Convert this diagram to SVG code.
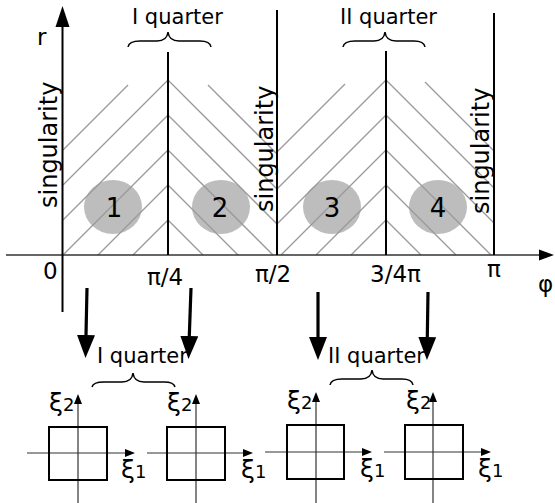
<svg xmlns="http://www.w3.org/2000/svg" width="555" height="503" viewBox="0 0 555 503">
<style>
text{font-family:"DejaVu Sans","Liberation Sans",sans-serif;fill:#000}
.lbl{font-size:23px}
.q{font-size:21px}
.sing{font-size:24px}
.num{font-size:26px;text-anchor:middle}
.xi{font-size:25px}
.sub{font-size:18px}
.hatch line{stroke:#999;stroke-width:1.3}
.vl{stroke:#000;stroke-width:2}
.brace{fill:none;stroke:#000;stroke-width:1.5}
.circ{fill:#bdbdbd}
.box{fill:none;stroke:#000;stroke-width:2}
.ax{stroke:#333;stroke-width:1.2}
.big{stroke:#000;stroke-width:3.2}
</style>
<defs>
<marker id="bigHead" markerUnits="userSpaceOnUse" markerWidth="24" markerHeight="20" refX="0" refY="9" orient="auto">
<path d="M0,0 L23,9 L0,18 z" fill="#000"/>
</marker>
<marker id="smallHead" markerUnits="userSpaceOnUse" markerWidth="11" markerHeight="9" refX="0" refY="4" orient="auto">
<path d="M0,0 L10,4 L0,8 z" fill="#000"/>
</marker>
</defs>

<g id="regions">
<ellipse class="circ" cx="113" cy="207" rx="29" ry="27"/>
<ellipse class="circ" cx="221" cy="207" rx="29" ry="27"/>
<ellipse class="circ" cx="332" cy="207" rx="29" ry="27"/>
<ellipse class="circ" cx="438" cy="207" rx="29" ry="27"/>
<g class="hatch">
<line x1="63" y1="150" x2="128" y2="85"/>
<line x1="168" y1="80" x2="63" y2="185"/>
<line x1="168" y1="115" x2="63" y2="220"/>
<line x1="168" y1="150" x2="63" y2="255"/>
<line x1="168" y1="185" x2="98" y2="255"/>
<line x1="168" y1="220" x2="133" y2="255"/>
<line x1="208" y1="85" x2="277" y2="154"/>
<line x1="168" y1="80" x2="277" y2="189"/>
<line x1="168" y1="115" x2="277" y2="224"/>
<line x1="168" y1="150" x2="273" y2="255"/>
<line x1="168" y1="185" x2="238" y2="255"/>
<line x1="168" y1="220" x2="203" y2="255"/>
<line x1="277" y1="152" x2="345" y2="84"/>
<line x1="386" y1="80" x2="277" y2="189"/>
<line x1="386" y1="115" x2="277" y2="224"/>
<line x1="386" y1="150" x2="281" y2="255"/>
<line x1="386" y1="185" x2="316" y2="255"/>
<line x1="386" y1="220" x2="351" y2="255"/>
<line x1="425" y1="82" x2="494" y2="151"/>
<line x1="386" y1="80" x2="494" y2="188"/>
<line x1="386" y1="115" x2="494" y2="223"/>
<line x1="386" y1="150" x2="491" y2="255"/>
<line x1="386" y1="185" x2="456" y2="255"/>
<line x1="386" y1="220" x2="421" y2="255"/>
</g>
<text class="num" x="114" y="217">1</text>
<text class="num" x="220" y="217">2</text>
<text class="num" x="332" y="217">3</text>
<text class="num" x="438" y="217">4</text>
</g>

<g id="axes">
<line x1="6" y1="255" x2="541" y2="255" stroke="#333" stroke-width="1.6"/>
<path d="M539,249.5 L554,255 L539,260.5 z" fill="#000"/>
<line x1="62.5" y1="312" x2="62.5" y2="26" stroke="#000" stroke-width="2"/>
<path d="M55.5,27 L62.5,6 L69.5,27 z" fill="#000"/>
<line class="vl" x1="168" y1="52" x2="168" y2="255"/>
<line class="vl" x1="277" y1="10" x2="277" y2="255"/>
<line class="vl" x1="386" y1="51" x2="386" y2="255"/>
<line class="vl" x1="494" y1="13" x2="494" y2="255"/>
<text class="lbl" x="37" y="45">r</text>
<text class="lbl" x="43" y="279">0</text>
<text class="lbl" x="147" y="285">π/4</text>
<text class="lbl" x="255" y="282">π/2</text>
<text class="lbl" x="370" y="282">3/4π</text>
<text class="lbl" x="487" y="277">π</text>
<text class="lbl" x="538" y="292">φ</text>
<text class="sing" transform="translate(57,208) rotate(-90)">singularity</text>
<text class="sing" transform="translate(273,212) rotate(-90)">singularity</text>
<text class="sing" transform="translate(489,214) rotate(-90)">singularity</text>
</g>

<g id="top-quarters">
<text class="q" x="132" y="24">I quarter</text>
<path class="brace" d="M128,47 Q129,41 140,41 L157,41 Q167,41 168,32 Q169,41 179,41 L200,41 Q210,41 211,47"/>
<text class="q" x="340" y="24">II quarter</text>
<path class="brace" d="M343,47 Q344,41 355,41 L374,41 Q384,41 385,32 Q386,41 396,41 L414,41 Q424,41 425,47"/>
</g>

<g id="connectors">
<line class="big" x1="87" y1="288" x2="86" y2="335" marker-end="url(#bigHead)"/>
<line class="big" x1="191" y1="288" x2="189.3" y2="336" marker-end="url(#bigHead)"/>
<line class="big" x1="318" y1="292" x2="318" y2="337" marker-end="url(#bigHead)"/>
<line class="big" x1="428" y1="292" x2="427.3" y2="337" marker-end="url(#bigHead)"/>
</g>

<g id="bottom-quarters">
<text class="q" x="97" y="363">I quarter</text>
<path class="brace" d="M92,387 Q93,382 104,382 L122,382 Q132,382 133,373 Q134,382 144,382 L164,382 Q174,382 175,387"/>
<text class="q" x="328" y="363">II quarter</text>
<path class="brace" d="M330,385 Q331,379 342,379 L361,379 Q371,379 372,370 Q373,379 383,379 L402,379 Q412,379 413,385"/>
</g>

<g id="sys1">
<line class="ax" x1="78" y1="503" x2="78" y2="404" marker-end="url(#smallHead)"/>
<line class="ax" x1="27" y1="453" x2="125" y2="453" marker-end="url(#smallHead)"/>
<rect class="box" x="49" y="427" width="58" height="53"/>
<text class="xi" x="49" y="411">ξ<tspan class="sub">2</tspan></text>
<text class="xi" x="121" y="478">ξ<tspan class="sub">1</tspan></text>
</g>
<g id="sys2">
<line class="ax" x1="196" y1="503" x2="196" y2="404" marker-end="url(#smallHead)"/>
<line class="ax" x1="147" y1="453" x2="243" y2="453" marker-end="url(#smallHead)"/>
<rect class="box" x="167" y="427" width="58" height="53"/>
<text class="xi" x="167" y="411">ξ<tspan class="sub">2</tspan></text>
<text class="xi" x="241" y="478">ξ<tspan class="sub">1</tspan></text>
</g>
<g id="sys3">
<line class="ax" x1="316" y1="503" x2="316" y2="402" marker-end="url(#smallHead)"/>
<line class="ax" x1="265" y1="452" x2="362" y2="452" marker-end="url(#smallHead)"/>
<rect class="box" x="287" y="425" width="57" height="54"/>
<text class="xi" x="287" y="409">ξ<tspan class="sub">2</tspan></text>
<text class="xi" x="360" y="477">ξ<tspan class="sub">1</tspan></text>
</g>
<g id="sys4">
<line class="ax" x1="433" y1="503" x2="433" y2="402" marker-end="url(#smallHead)"/>
<line class="ax" x1="384" y1="452" x2="481" y2="452" marker-end="url(#smallHead)"/>
<rect class="box" x="405" y="425" width="58" height="54"/>
<text class="xi" x="406" y="409">ξ<tspan class="sub">2</tspan></text>
<text class="xi" x="478" y="477">ξ<tspan class="sub">1</tspan></text>
</g>
</svg>
